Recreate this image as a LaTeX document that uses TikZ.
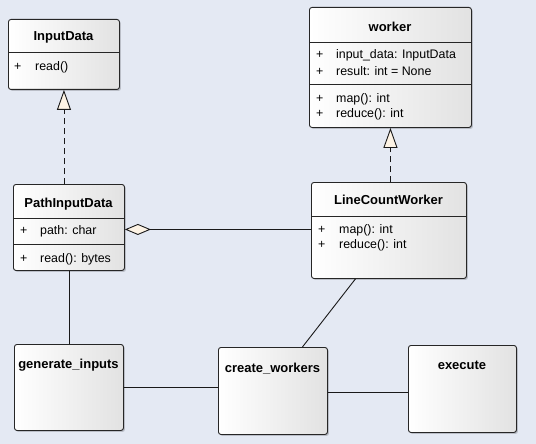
\documentclass[tikz,border=0pt]{standalone}
\usepackage{fontspec}
\setmainfont{Liberation Sans}
\usetikzlibrary{arrows.meta,shadows,calc}
\definecolor{bgcol}{RGB}{228,233,243}
\definecolor{cream}{RGB}{253,243,228}
\definecolor{boxgray}{RGB}{226,226,226}
\begin{document}
\begin{tikzpicture}[x=1pt,y=-1pt,
  every node/.style={font=\fontsize{12.4}{14}\selectfont},
  box/.style={draw=black!85, line width=0.9pt, rounded corners=2.5pt,
    left color=white, right color=boxgray, anchor=north west, inner sep=0pt,
    drop shadow={shadow xshift=1.5pt, shadow yshift=-1.5pt, fill=black, opacity=0.18}},
  sepline/.style={draw=black!85, line width=0.9pt},
  title/.style={anchor=base, inner sep=0pt, font=\fontsize{13}{15}\selectfont\bfseries},
  plus/.style={anchor=base west, inner sep=0pt},
  member/.style={anchor=base west, inner sep=0pt},
  conn/.style={draw=black!90, line width=0.9pt},
  realize/.style={conn, dashed, dash pattern=on 6pt off 4pt,
    -{Triangle[length=20pt,width=14pt,fill=cream,line width=0.9pt]}},
  aggr/.style={conn, {Diamond[length=26pt,width=11pt,fill=cream,line width=0.9pt]}-}
]
\fill[bgcol] (0,0) rectangle (536,444);
\useasboundingbox (0,0) rectangle (536,444);

% InputData
\node[box, minimum width=111pt, minimum height=70pt] (in) at (8,19) {};
\draw[sepline] (8,52) -- (119,52);
\node[title] (inT) at (63.5,40.5) {InputData};
\node[plus] (inP1) at (14,70.5) {+};
\node[member] (inM1) at (35,70.5) {read()};

% PathInputData
\node[box, minimum width=111pt, minimum height=86pt] (pid) at (13,184) {};
\draw[sepline] (13,218) -- (124,218);
\draw[sepline] (13,244) -- (124,244);
\node[title] (pidT) at (68.5,207.5) {PathInputData};
\node[plus] (pidP1) at (20,234.5) {+};
\node[member] (pidM1) at (40,234.5) {path: char};
\node[plus] (pidP2) at (20,262.5) {+};
\node[member] (pidM2) at (40,262.5) {read(): bytes};

% worker
\node[box, minimum width=162pt, minimum height=120pt] (wk) at (309,7) {};
\draw[sepline] (309,42) -- (471,42);
\node[title] (wkT) at (390,31.5) {worker};
\node[plus] (wkP1) at (316,58.5) {+};
\node[member] (wkM1) at (336,58.5) {input\_data: InputData};
\node[plus] (wkP2) at (316,75.5) {+};
\node[member] (wkM2) at (336,75.5) {result: int = None};
\draw[sepline] (309,84) -- (471,84);
\node[plus] (wkP3) at (316,102.5) {+};
\node[member] (wkM3) at (336,102.5) {map(): int};
\node[plus] (wkP4) at (316,117.5) {+};
\node[member] (wkM4) at (336,117.5) {reduce(): int};

% LineCountWorker
\node[box, minimum width=155pt, minimum height=96pt] (lcw) at (311,182) {};
\draw[sepline] (311,216) -- (466,216);
\node[title] (lcwT) at (388.5,204.5) {LineCountWorker};
\node[plus] (lcwP1) at (318,233.5) {+};
\node[member] (lcwM1) at (339,233.5) {map(): int};
\node[plus] (lcwP2) at (318,248.5) {+};
\node[member] (lcwM2) at (339,248.5) {reduce(): int};

% functions
\node[box, minimum width=109pt, minimum height=86pt] (gen) at (14,344) {};
\node[title] (genT) at (68.5,368.5) {generate\_inputs};
\node[box, minimum width=109pt, minimum height=87pt] (cw) at (218,347) {};
\node[title] (cwT) at (272.5,372.5) {create\_workers};
\node[box, minimum width=108pt, minimum height=87pt] (ex) at (408,345) {};
\node[title] (exT) at (462,369.5) {execute};

% connectors
\draw[realize] (in.south |- pid.north) -- (in.south);
\draw[realize] (wk.south |- lcw.north) -- (wk.south);
\coordinate (dstart) at ([yshift=-2pt]pid.east);
\draw[aggr] (dstart) -- (dstart -| lcw.west);
\draw[conn] (pid.south) -- (gen.north);
\draw[conn] ([xshift=-33.5pt]lcw.south) -- ([xshift=29.5pt]cw.north);
\draw[conn] (gen.east) -- (gen.east -| cw.west);
\coordinate (cwr) at ([yshift=-1.5pt]cw.east);
\draw[conn] (cwr) -- (cwr -| ex.west);
\end{tikzpicture}
\end{document}
